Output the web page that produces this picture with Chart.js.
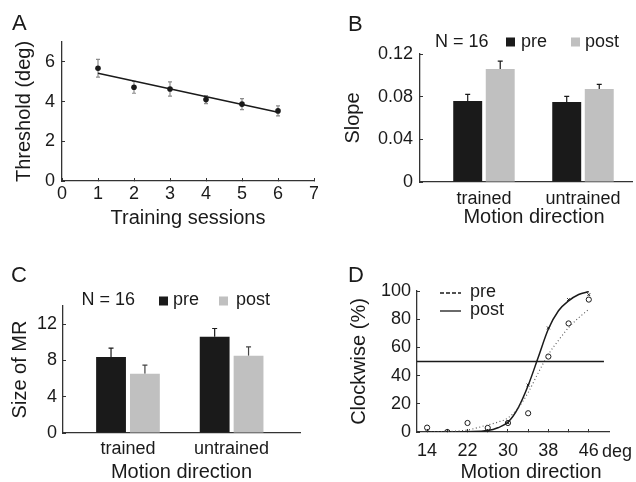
<!DOCTYPE html>
<html>
<head>
<meta charset="utf-8">
<script src="https://cdn.jsdelivr.net/npm/chart.js@4.4.1/dist/chart.umd.min.js"></script>
<style>
  html, body { margin: 0; padding: 0; background: #fff; }
  #fig { position: relative; width: 636px; height: 482px; font-family: "Liberation Sans", Arial, sans-serif; color: #1a1a1a; }
  #fig canvas { position: absolute; display: block; }
  .letter { position: absolute; font-size: 22px; line-height: 1; }
</style>
</head>
<body>
<div id="fig">
  <canvas id="chartA" width="318" height="240" style="left:0;top:0"></canvas>
  <canvas id="chartB" width="318" height="240" style="left:318px;top:0"></canvas>
  <canvas id="chartC" width="318" height="242" style="left:0;top:240px"></canvas>
  <canvas id="chartD" width="318" height="242" style="left:318px;top:240px"></canvas>
  <div class="letter" style="left:12px;top:12px">A</div>
  <div class="letter" style="left:348px;top:13px">B</div>
  <div class="letter" style="left:11px;top:264px">C</div>
  <div class="letter" style="left:348px;top:264px">D</div>
</div>
<script>
// A: threshold per training session
const sessions = [1, 2, 3, 4, 5, 6];
const thresholdMean = [5.68, 4.72, 4.63, 4.10, 3.87, 3.53];
const thresholdErr = [0.45, 0.30, 0.36, 0.20, 0.28, 0.25];
const fitSessions = [1, 6];
const fitThreshold = [5.43, 3.46];

// B, C: pre / post by motion direction
const directions = ['trained', 'untrained'];
const slopePre = [0.0760, 0.0750];
const slopePost = [0.1060, 0.0872];
const slopePreErr = [0.0062, 0.0053];
const slopePostErr = [0.0074, 0.0044];
const mrPre = [8.37, 10.6];
const mrPost = [6.53, 8.51];
const mrPreErr = [0.99, 0.92];
const mrPostErr = [0.96, 0.99];

// D: psychometric functions
const angles = [14, 18, 22, 26, 30, 34, 38, 42, 46];
const angleLabels = [14, 22, 30, 38, 46];
const prePct = [3.1, 0, 6.4, 2.9, 6.4, 13.3, 53.5, 77, 93.9];
const postPct = [0, 0, 0, 0.5, 6.5, 33.3, 73.8, 93.9, 97.4];
const fitAngles = [14, 18, 22, 26, 28, 30, 32, 34, 36, 38, 40, 42, 44, 46];
const preFit = [0, 0.3, 1.5, 5, 7, 10, 17, 28, 42, 55, 65, 74, 81, 87];
const postFit = [0, 0, 0.2, 1, 3, 7, 17, 33, 53, 73, 86, 93, 97.5, 99.6];
const chanceRange = [12, 49];
const chanceLevel = 50;

const FONT = '"Liberation Sans", Arial, sans-serif';
const INK = '#1a1a1a';
const AXIS = '#333';
const PRE = '#1a1a1a';
const POST = '#c0c0c0';

Chart.defaults.font.family = FONT;
Chart.defaults.font.size = 18;
Chart.defaults.color = INK;
Chart.defaults.animation = false;
Chart.defaults.plugins.legend.display = false;
Chart.defaults.plugins.tooltip.enabled = false;

const BORDER = { display: true, color: AXIS, width: 1.3 };
const GRID = { display: true, drawOnChartArea: false, drawTicks: true, tickLength: -3, color: AXIS, lineWidth: 1 };
const NOGRID = { display: false, drawTicks: false, offset: false };

// keep every axis box at a fixed size so the four panels line up
function fixSize(size) {
  return function (scale) {
    if (scale.isHorizontal()) scale.height = size; else scale.width = size;
    scale.paddingLeft = scale.paddingRight = scale.paddingTop = scale.paddingBottom = 0;
  };
}

const xy = (xs, ys) => xs.map((x, i) => ({ x: x, y: ys[i] }));

// error bars: dataset.errors, both directions or upward only
const errorBars = {
  id: 'errorBars',
  beforeDatasetsDraw(chart) {
    const ctx = chart.ctx;
    const yScale = chart.scales.y;
    chart.data.datasets.forEach((ds, di) => {
      if (!ds.errors) return;
      const meta = chart.getDatasetMeta(di);
      ctx.save();
      ctx.strokeStyle = ds.errorColor;
      ctx.lineWidth = 1.2;
      meta.data.forEach((el, i) => {
        const v = ds.data[i].y;
        const top = yScale.getPixelForValue(v + ds.errors[i]);
        const bot = ds.errorBoth ? yScale.getPixelForValue(v - ds.errors[i]) : el.y;
        const h = ds.capWidth / 2;
        ctx.beginPath();
        ctx.moveTo(el.x, top); ctx.lineTo(el.x, bot);
        ctx.moveTo(el.x - h, top); ctx.lineTo(el.x + h, top);
        if (ds.errorBoth) { ctx.moveTo(el.x - h, bot); ctx.lineTo(el.x + h, bot); }
        ctx.stroke();
      });
      ctx.restore();
    });
  }
};

// legend rows and extra text, offsets from the chart area corner
function panelText(items) {
  return {
    id: 'panelText',
    afterDraw(chart) {
      const { ctx, chartArea } = chart;
      ctx.save();
      ctx.fillStyle = INK;
      ctx.strokeStyle = INK;
      ctx.textBaseline = 'middle';
      items.forEach(it => {
        const x = chartArea.left + it.dx;
        const y = chartArea.top + it.dy;
        ctx.font = (it.size || 18) + 'px ' + FONT;
        ctx.textAlign = it.align || 'left';
        if (it.box) {
          ctx.fillStyle = it.box;
          ctx.fillRect(x, y - 4.5, 9, 9);
          ctx.fillStyle = INK;
        } else if (it.line) {
          ctx.lineWidth = 1.3;
          ctx.setLineDash(it.dash || []);
          ctx.beginPath();
          ctx.moveTo(x, y); ctx.lineTo(x + it.line, y);
          ctx.stroke();
          ctx.setLineDash([]);
        } else {
          ctx.fillText(it.text, x, y);
        }
      });
      ctx.restore();
    }
  };
}

// A
new Chart(document.getElementById('chartA'), {
  type: 'scatter',
  data: {
    datasets: [
      { data: xy(sessions, thresholdMean), errors: thresholdErr, errorBoth: true, errorColor: '#8c8c8c', capWidth: 4,
        pointRadius: 2.8, backgroundColor: INK, borderWidth: 0 },
      { data: xy(fitSessions, fitThreshold), showLine: true, pointRadius: 0, borderColor: INK, borderWidth: 1.5 }
    ]
  },
  options: {
    responsive: false,
    layout: { padding: { top: 42, right: 3, left: 0, bottom: 0 } },
    scales: {
      x: {
        type: 'linear', min: 0, max: 7, border: BORDER, grid: GRID,
        ticks: { stepSize: 1, padding: 5, maxRotation: 0 },
        title: { display: true, text: 'Training sessions', font: { size: 20 }, padding: { top: 0, bottom: 10 } },
        afterFit: fixSize(59)
      },
      y: {
        min: 0, max: 7, border: BORDER, grid: GRID,
        ticks: { stepSize: 1, padding: 10, callback: v => (v % 2 === 0 ? v : '') },
        title: { display: true, text: 'Threshold (deg)', font: { size: 20 }, padding: { top: 12, bottom: 0 } },
        afterFit: fixSize(62)
      }
    }
  },
  plugins: [errorBars]
});

// B
new Chart(document.getElementById('chartB'), {
  type: 'bar',
  data: {
    datasets: [
      { label: 'pre', data: xy([1, 2], slopePre), backgroundColor: PRE, errors: slopePreErr, errorColor: INK, capWidth: 5 },
      { label: 'post', data: xy([1, 2], slopePost), backgroundColor: POST, errors: slopePostErr, errorColor: INK, capWidth: 5 }
    ]
  },
  options: {
    responsive: false,
    datasets: { bar: { categoryPercentage: 0.657, barPercentage: 0.89 } },
    layout: { padding: { top: 54, right: 4, left: 0, bottom: 0 } },
    scales: {
      x: {
        type: 'linear', min: 0.354, max: 2.495, offset: false, border: BORDER, grid: NOGRID,
        afterBuildTicks: s => { s.ticks = directions.map((d, i) => ({ value: i + 1 })); },
        ticks: { padding: 6, maxRotation: 0, autoSkip: false, callback: v => directions[v - 1] },
        afterFit: fixSize(58)
      },
      y: {
        min: 0, max: 0.12, border: BORDER, grid: GRID,
        ticks: {
          stepSize: 0.02, padding: 10,
          callback: v => { const k = Math.round(v / 0.02); return k % 2 ? '' : (k === 0 ? '0' : v.toFixed(2)); }
        },
        title: { display: true, text: 'Slope', font: { size: 20 }, padding: { top: 23, bottom: 0 } },
        afterFit: fixSize(102)
      }
    }
  },
  plugins: [errorBars, panelText([
    { text: 'N = 16', dx: 15, dy: -12 },
    { box: PRE, dx: 86, dy: -12 },
    { text: 'pre', dx: 101, dy: -12 },
    { box: POST, dx: 151, dy: -12 },
    { text: 'post', dx: 165, dy: -12 },
    { text: 'Motion direction', size: 20, align: 'center', dx: 114, dy: 163 }
  ])]
});

// C
new Chart(document.getElementById('chartC'), {
  type: 'bar',
  data: {
    datasets: [
      { label: 'pre', data: xy([1, 2], mrPre), backgroundColor: PRE, errors: mrPreErr, errorColor: INK, capWidth: 5 },
      { label: 'post', data: xy([1, 2], mrPost), backgroundColor: POST, errors: mrPostErr, errorColor: '#444', capWidth: 5 }
    ]
  },
  options: {
    responsive: false,
    datasets: { bar: { categoryPercentage: 0.654, barPercentage: 0.88 } },
    layout: { padding: { top: 66, right: 18, left: 0, bottom: 0 } },
    scales: {
      x: {
        type: 'linear', min: 0.373, max: 2.66, offset: false, border: BORDER, grid: NOGRID,
        afterBuildTicks: s => { s.ticks = directions.map((d, i) => ({ value: i + 1 })); },
        ticks: { padding: 5, maxRotation: 0, autoSkip: false, callback: v => directions[v - 1] },
        title: { display: true, text: 'Motion direction', font: { size: 20 }, padding: { top: 0, bottom: -2 } },
        afterFit: fixSize(49)
      },
      y: {
        min: 0, max: 14, border: BORDER, grid: GRID,
        ticks: { stepSize: 2, padding: 9, callback: v => (v % 4 === 0 ? v : '') },
        title: { display: true, text: 'Size of MR', font: { size: 20 }, padding: { top: 8, bottom: 0 } },
        afterFit: fixSize(63)
      }
    }
  },
  plugins: [errorBars, panelText([
    { text: 'N = 16', dx: 18.5, dy: -6 },
    { box: PRE, dx: 96, dy: -5 },
    { text: 'pre', dx: 110, dy: -6 },
    { box: POST, dx: 156, dy: -5 },
    { text: 'post', dx: 173, dy: -6 }
  ])]
});

// D
new Chart(document.getElementById('chartD'), {
  type: 'scatter',
  data: {
    datasets: [
      { data: xy(chanceRange, [chanceLevel, chanceLevel]), showLine: true, pointRadius: 0, borderColor: INK, borderWidth: 1.5 },
      { data: xy(fitAngles, preFit), showLine: true, pointRadius: 0, borderColor: '#555', borderWidth: 1.1,
        borderDash: [1, 2.5], cubicInterpolationMode: 'monotone' },
      { data: xy(fitAngles, postFit), showLine: true, pointRadius: 0, borderColor: INK, borderWidth: 1.5,
        cubicInterpolationMode: 'monotone' },
      { data: xy(angles, prePct), pointStyle: 'circle', pointRadius: 2.6, borderColor: INK, borderWidth: 1,
        backgroundColor: 'rgba(255,255,255,0)' },
      { data: xy(angles, postPct), pointStyle: 'crossRot', pointRadius: 2, borderColor: INK, borderWidth: 1 }
    ]
  },
  options: {
    responsive: false,
    layout: { padding: { top: 51, right: 27, left: 0, bottom: 0 } },
    scales: {
      x: {
        type: 'linear', min: 12, max: 50, border: BORDER, grid: GRID,
        afterBuildTicks: s => { s.ticks = angles.map(v => ({ value: v })); },
        ticks: { padding: 11, maxRotation: 0, autoSkip: false, callback: v => (angleLabels.includes(v) ? String(v) : '') },
        afterFit: fixSize(50)
      },
      y: {
        min: 0, max: 100, border: BORDER, grid: GRID,
        ticks: { stepSize: 10, padding: 9, callback: v => (v % 20 === 0 ? v : '') },
        title: { display: true, text: 'Clockwise (%)', font: { size: 20 }, padding: { top: 29, bottom: 0 } },
        afterFit: fixSize(99)
      }
    }
  },
  plugins: [panelText([
    { line: 21, dash: [4, 2], dx: 23, dy: 2 },
    { text: 'pre', dx: 53, dy: 1 },
    { line: 21, dx: 23, dy: 20 },
    { text: 'post', dx: 53, dy: 19 },
    { text: 'deg', dx: 185, dy: 161 },
    { text: 'Motion direction', size: 20, align: 'center', dx: 114, dy: 181 }
  ])]
});
</script>
</body>
</html>
